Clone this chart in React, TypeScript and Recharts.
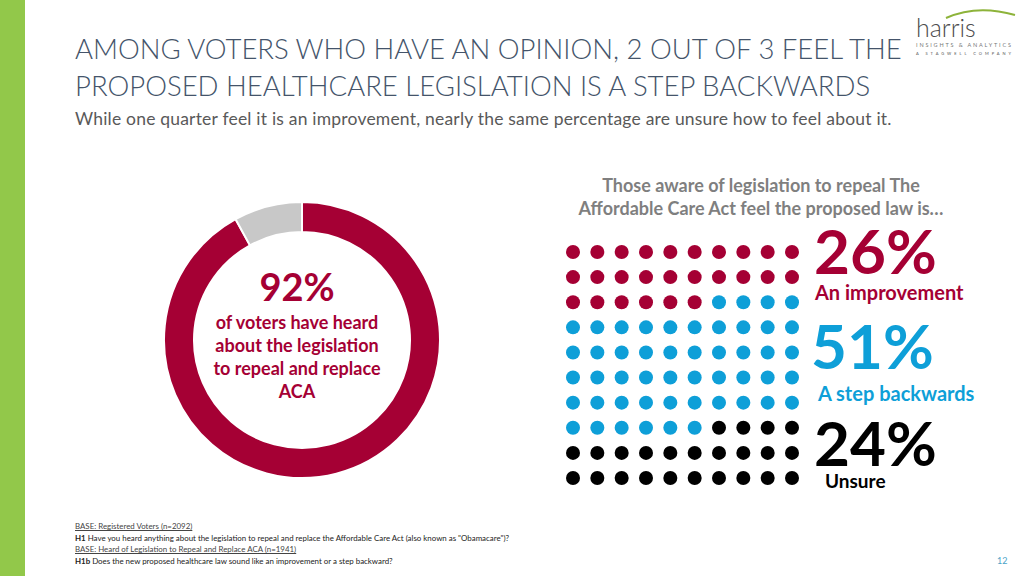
import { PieChart, Pie, Cell, ScatterChart, Scatter, XAxis, YAxis } from 'recharts';

// donut: heard about the legislation
const awareLabels = ['Heard', 'Not heard'];
const awareValues = [92, 8];
const awareColors = ['#A50034', '#C8C8C8'];

// dot grid: improvement / step backwards / unsure
const opinionLabels = ['An improvement', 'A step backwards', 'Unsure'];
const opinionPercents = [26, 51, 24];
const opinionDots = [26, 50, 24];
const opinionColors = ['#A50034', '#0E9FD8', '#000000'];

const GRID_COLS = 10;

const font = 'Lato, "Open Sans", sans-serif';

function buildDots() {
  const series: { x: number; y: number }[][] = [];
  let idx = 0;
  opinionDots.forEach((count) => {
    const pts: { x: number; y: number }[] = [];
    for (let k = 0; k < count; k++) {
      pts.push({ x: idx % GRID_COLS, y: Math.floor(idx / GRID_COLS) });
      idx++;
    }
    series.push(pts);
  });
  return series;
}

const Dot = (props: any) => {
  const { cx, cy, fill } = props;
  return <circle cx={cx} cy={cy} r={7} fill={fill} />;
};

export default function App() {
  const donutData = awareLabels.map((name, i) => ({ name, value: awareValues[i] }));
  const dotSeries = buildDots();

  const abs = (left: number, top: number, extra: any = {}) => ({
    position: 'absolute' as const,
    left,
    top,
    fontFamily: font,
    whiteSpace: 'nowrap' as const,
    ...extra,
  });

  return (
    <div style={{ position: 'fixed', left: 0, top: 0, width: 1024, height: 576, background: '#fff', overflow: 'hidden' }}>
      {/* green side bar */}
      <div style={{ position: 'absolute', left: 0, top: 0, width: 25, height: 576, background: '#92C84A' }} />

      {/* title */}
      <div style={abs(75, 30, { fontSize: 27.5, lineHeight: '37px', color: '#44546A', fontWeight: 300 })}>
        AMONG VOTERS WHO HAVE AN OPINION, 2 OUT OF 3 FEEL THE<br />
        PROPOSED HEALTHCARE LEGISLATION IS A STEP BACKWARDS
      </div>
      <div style={abs(75, 108, { fontSize: 17.5, letterSpacing: 0.2, lineHeight: '22px', color: '#595959' })}>
        While one quarter feel it is an improvement, nearly the same percentage are unsure how to feel about it.
      </div>

      {/* logo */}
      <svg style={{ position: 'absolute', left: 905, top: 5 }} width={119} height={60}>
        <path d="M 41 13 Q 72 -1 110 10" fill="none" stroke="#8DB33A" strokeWidth={2} />
        <text x={11} y={32} fontFamily={font} fontSize={25} fontWeight={300} fill="#4D4D4D">harris</text>
        <text x={11} y={42} fontFamily={font} fontSize={5.5} textLength={95} lengthAdjust="spacing" fill="#777">INSIGHTS &amp; ANALYTICS</text>
        <text x={11} y={49.5} fontFamily={font} fontSize={4} textLength={95} lengthAdjust="spacing" fill="#555">A STAGWELL COMPANY</text>
      </svg>

      {/* donut */}
      <div style={{ position: 'absolute', left: 147, top: 185 }}>
        <PieChart width={300} height={300}>
          <Pie
            data={donutData}
            dataKey="value"
            cx={150}
            cy={150}
            innerRadius={108}
            outerRadius={138}
            startAngle={90}
            endAngle={-270}
            stroke="#ffffff"
            strokeWidth={2}
            isAnimationActive={false}
          >
            {donutData.map((entry, i) => (
              <Cell key={`cell-${i}`} fill={awareColors[i]} />
            ))}
          </Pie>
        </PieChart>
      </div>
      <div style={abs(197, 263, { width: 200, textAlign: 'center', fontSize: 38, lineHeight: '46px', fontWeight: 700, color: '#A50034' })}>
        {awareValues[0]}%
      </div>
      <div style={abs(177, 311, { width: 240, textAlign: 'center', fontSize: 18, lineHeight: '23px', fontWeight: 700, color: '#A50034', whiteSpace: 'normal' })}>
        of voters have heard<br />about the legislation<br />to repeal and replace<br />ACA
      </div>

      {/* dot grid heading */}
      <div style={abs(541, 174, { width: 440, textAlign: 'center', fontSize: 18, lineHeight: '23px', fontWeight: 700, color: '#7F7F7F' })}>
        Those aware of legislation to repeal The<br />Affordable Care Act feel the proposed law is…
      </div>

      {/* dot grid */}
      <div style={{ position: 'absolute', left: 563, top: 242 }}>
        <ScatterChart width={239} height={246} margin={{ top: 10, right: 10, bottom: 10, left: 10 }}>
          <XAxis type="number" dataKey="x" domain={[0, 9]} hide />
          <YAxis type="number" dataKey="y" domain={[0, 9]} reversed hide />
          {dotSeries.map((pts, i) => (
            <Scatter
              key={opinionLabels[i]}
              name={opinionLabels[i]}
              data={pts}
              fill={opinionColors[i]}
              shape={<Dot />}
              isAnimationActive={false}
            />
          ))}
        </ScatterChart>
      </div>

      {/* big percentages */}
      <div style={abs(814, 225, { fontSize: 62, lineHeight: '50px', fontWeight: 700, color: opinionColors[0] })}>
        {opinionPercents[0]}%
      </div>
      <div style={abs(815, 280, { fontSize: 20, lineHeight: '24px', fontWeight: 700, color: opinionColors[0] })}>
        {opinionLabels[0]}
      </div>
      <div style={abs(811, 320, { fontSize: 62, lineHeight: '50px', fontWeight: 700, color: opinionColors[1] })}>
        {opinionPercents[1]}%
      </div>
      <div style={abs(818, 381, { fontSize: 20, lineHeight: '24px', fontWeight: 700, color: opinionColors[1] })}>
        {opinionLabels[1]}
      </div>
      <div style={abs(814, 417, { fontSize: 62, lineHeight: '50px', fontWeight: 700, color: opinionColors[2] })}>
        {opinionPercents[2]}%
      </div>
      <div style={abs(825, 469, { fontSize: 19, lineHeight: '24px', fontWeight: 700, color: opinionColors[2] })}>
        {opinionLabels[2]}
      </div>

      {/* footnotes */}
      <div style={abs(75, 521, { fontSize: 7.9, lineHeight: '11.7px', color: '#222' })}>
        <div style={{ textDecoration: 'underline', color: '#444' }}>BASE: Registered Voters (n=2092)</div>
        <div><b>H1</b> Have you heard anything about the legislation to repeal and replace the Affordable Care Act (also known as "Obamacare")?</div>
        <div style={{ textDecoration: 'underline', color: '#444' }}>BASE: Heard of Legislation to Repeal and Replace ACA (n=1941)</div>
        <div><b>H1b</b> Does the new proposed healthcare law sound like an improvement or a step backward?</div>
      </div>
      <div style={abs(997, 555, { fontSize: 9, lineHeight: '12px', color: '#4BA3C8' })}>12</div>
    </div>
  );
}
